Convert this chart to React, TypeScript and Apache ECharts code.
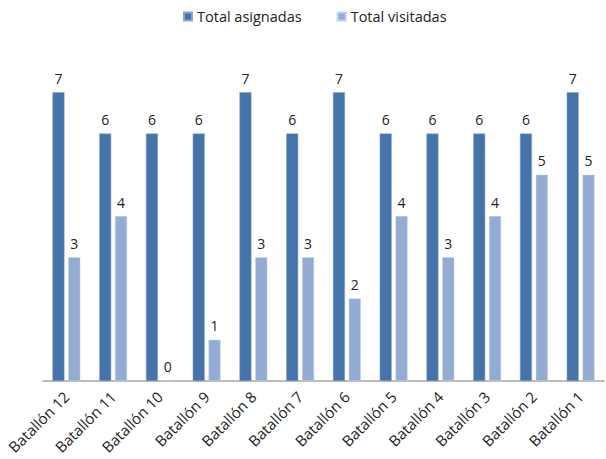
import React, { useEffect, useRef } from "react";
import * as echarts from "echarts";

const categories = [
  "Batallón 12", "Batallón 11", "Batallón 10", "Batallón 9", "Batallón 8", "Batallón 7",
  "Batallón 6", "Batallón 5", "Batallón 4", "Batallón 3", "Batallón 2", "Batallón 1",
];
const asignadas = [7, 6, 6, 6, 7, 6, 7, 6, 6, 6, 6, 7];
const visitadas = [3, 4, 0, 1, 3, 3, 2, 4, 3, 4, 5, 5];

const FONT = "Open Sans";

export default function App() {
  const ref = useRef<HTMLDivElement>(null);
  useEffect(() => {
    if (!ref.current) return;
    const chart = echarts.init(ref.current, undefined, { renderer: "svg" });
    const label = {
      show: true,
      position: "top" as const,
      distance: 7,
      color: "#222",
      fontSize: 14,
      fontFamily: FONT,
    };
    chart.setOption({
      animation: false,
      backgroundColor: "#fff",
      legend: {
        left: 183,
        top: 9,
        padding: 0,
        itemWidth: 8,
        itemHeight: 8,
        itemGap: 35,
        icon: "rect",
        textStyle: { fontSize: 14.5, fontFamily: FONT, color: "#222" },
        data: ["Total asignadas", "Total visitadas"],
      },
      grid: { left: 43, right: 2, top: 51, bottom: 78 },
      xAxis: {
        type: "category",
        data: categories,
        axisLine: { lineStyle: { color: "#a6a6a6", width: 1.5 } },
        axisTick: { show: false },
        axisLabel: {
          rotate: 45,
          interval: 0,
          margin: 13,
          fontSize: 15,
          fontFamily: FONT,
          color: "#222",
        },
      },
      yAxis: {
        type: "value",
        min: 0,
        max: 8,
        show: false,
        splitLine: { show: false },
      },
      series: [
        {
          name: "Total asignadas",
          type: "bar",
          data: asignadas,
          barWidth: 12,
          barGap: "32%",
          itemStyle: { color: "#4673aa", borderColor: "#8aa6cc", borderWidth: 0.5 },
          label,
        },
        {
          name: "Total visitadas",
          type: "bar",
          data: visitadas,
          barWidth: 12,
          itemStyle: { color: "#94abd4", borderColor: "#c3d0e8", borderWidth: 0.5 },
          label,
        },
      ],
    });
    return () => chart.dispose();
  }, []);
  return (
    <div
      ref={ref}
      style={{ position: "absolute", left: 0, top: 0, width: 606, height: 459 }}
    />
  );
}
